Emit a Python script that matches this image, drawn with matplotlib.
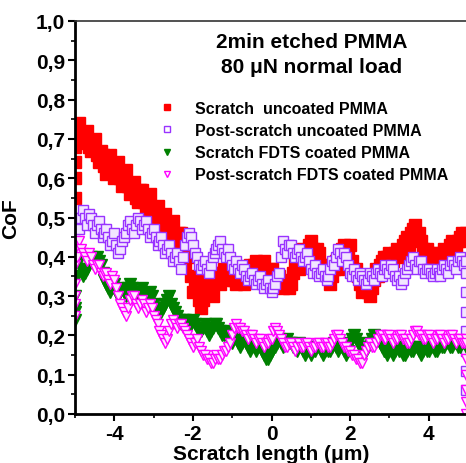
import numpy as np
import matplotlib
matplotlib.use("Agg")
import matplotlib.pyplot as plt
from matplotlib.lines import Line2D

plt.rcParams['font.family'] = ['Liberation Sans', 'DejaVu Sans']
plt.rcParams['font.weight'] = 'bold'

# CoF values, sampled every 0.05 um starting at x = -5 (one row = 1 um)
scratch_uncoated = [
    0.70, 0.73, 0.74, 0.71, 0.69, 0.70, 0.72, 0.68, 0.67, 0.69, 0.70, 0.66, 0.64, 0.67, 0.66, 0.63, 0.61, 0.64, 0.66, 0.62,
    0.60, 0.63, 0.64, 0.60, 0.58, 0.61, 0.62, 0.58, 0.56, 0.58, 0.59, 0.55, 0.54, 0.57, 0.57, 0.54, 0.52, 0.55, 0.56, 0.52,
    0.50, 0.52, 0.53, 0.50, 0.48, 0.50, 0.51, 0.47, 0.45, 0.48, 0.49, 0.45, 0.43, 0.46, 0.46, 0.41, 0.38, 0.42, 0.40, 0.35,
    0.31, 0.33, 0.34, 0.29, 0.27, 0.29, 0.31, 0.34, 0.33, 0.31, 0.30, 0.34, 0.36, 0.34, 0.33, 0.36, 0.37, 0.35, 0.34, 0.36,
    0.37, 0.34, 0.33, 0.35, 0.35, 0.34, 0.33, 0.36, 0.37, 0.38, 0.36, 0.38, 0.39, 0.37, 0.36, 0.38, 0.39, 0.36, 0.35, 0.37,
    0.37, 0.35, 0.33, 0.34, 0.35, 0.33, 0.32, 0.33, 0.34, 0.32, 0.33, 0.36, 0.38, 0.39, 0.37, 0.40, 0.42, 0.41, 0.40, 0.43,
    0.44, 0.42, 0.40, 0.42, 0.41, 0.38, 0.36, 0.38, 0.37, 0.35, 0.33, 0.35, 0.37, 0.39, 0.37, 0.40, 0.42, 0.43, 0.40, 0.42,
    0.43, 0.39, 0.36, 0.37, 0.35, 0.33, 0.31, 0.32, 0.33, 0.31, 0.30, 0.32, 0.34, 0.37, 0.35, 0.38, 0.39, 0.40, 0.38, 0.40,
    0.41, 0.40, 0.39, 0.41, 0.42, 0.40, 0.41, 0.43, 0.44, 0.45, 0.43, 0.46, 0.47, 0.48, 0.45, 0.46, 0.44, 0.42, 0.40, 0.42,
    0.41, 0.39, 0.38, 0.40, 0.41, 0.40, 0.39, 0.41, 0.42, 0.40, 0.41, 0.43, 0.44, 0.42, 0.42, 0.44, 0.45, 0.46, 0.44, 0.46,
]
post_uncoated = [
    0.50, 0.49, 0.47, 0.50, 0.52, 0.50, 0.48, 0.51, 0.50, 0.48, 0.46, 0.48, 0.49, 0.47, 0.45, 0.46, 0.47, 0.45, 0.43, 0.44,
    0.46, 0.43, 0.41, 0.42, 0.44, 0.45, 0.46, 0.48, 0.49, 0.47, 0.46, 0.48, 0.50, 0.49, 0.47, 0.48, 0.49, 0.47, 0.45, 0.46,
    0.47, 0.45, 0.43, 0.44, 0.45, 0.43, 0.41, 0.42, 0.43, 0.41, 0.39, 0.40, 0.41, 0.39, 0.37, 0.40, 0.43, 0.45, 0.46, 0.45,
    0.43, 0.41, 0.40, 0.38, 0.37, 0.38, 0.39, 0.37, 0.36, 0.38, 0.40, 0.41, 0.42, 0.43, 0.44, 0.42, 0.41, 0.40, 0.42, 0.40,
    0.38, 0.37, 0.39, 0.37, 0.36, 0.38, 0.37, 0.35, 0.34, 0.35, 0.36, 0.34, 0.33, 0.34, 0.35, 0.33, 0.32, 0.33, 0.34, 0.32,
    0.31, 0.32, 0.33, 0.35, 0.36, 0.40, 0.44, 0.42, 0.41, 0.43, 0.43, 0.41, 0.40, 0.41, 0.42, 0.40, 0.39, 0.40, 0.41, 0.39,
    0.37, 0.36, 0.38, 0.36, 0.35, 0.36, 0.37, 0.35, 0.34, 0.35, 0.37, 0.39, 0.38, 0.40, 0.42, 0.41, 0.39, 0.41, 0.40, 0.38,
    0.36, 0.35, 0.37, 0.35, 0.34, 0.36, 0.35, 0.34, 0.33, 0.34, 0.36, 0.35, 0.34, 0.36, 0.37, 0.36, 0.35, 0.37, 0.38, 0.37,
    0.36, 0.38, 0.37, 0.35, 0.34, 0.35, 0.33, 0.34, 0.36, 0.37, 0.38, 0.39, 0.40, 0.38, 0.37, 0.39, 0.39, 0.37, 0.36, 0.37,
    0.37, 0.36, 0.35, 0.36, 0.37, 0.36, 0.35, 0.37, 0.38, 0.37, 0.36, 0.38, 0.39, 0.38, 0.37, 0.39, 0.40, 0.39, 0.38, 0.39,
]
scratch_fdts = [
    0.27, 0.35, 0.39, 0.37, 0.35, 0.36, 0.37, 0.39, 0.40, 0.39, 0.38, 0.40, 0.39, 0.38, 0.36, 0.34, 0.33, 0.32, 0.31, 0.32,
    0.33, 0.31, 0.30, 0.31, 0.32, 0.31, 0.30, 0.32, 0.33, 0.32, 0.31, 0.30, 0.30, 0.31, 0.32, 0.30, 0.29, 0.30, 0.31, 0.30,
    0.28, 0.27, 0.27, 0.26, 0.26, 0.27, 0.28, 0.29, 0.30, 0.28, 0.27, 0.26, 0.25, 0.24, 0.23, 0.24, 0.24, 0.23, 0.22, 0.23,
    0.24, 0.23, 0.22, 0.21, 0.21, 0.22, 0.23, 0.21, 0.20, 0.21, 0.22, 0.23, 0.23, 0.22, 0.21, 0.20, 0.20, 0.21, 0.19, 0.20,
    0.18, 0.19, 0.20, 0.18, 0.17, 0.18, 0.19, 0.18, 0.17, 0.16, 0.18, 0.17, 0.16, 0.17, 0.17, 0.16, 0.15, 0.14, 0.14, 0.15,
    0.16, 0.17, 0.17, 0.18, 0.19, 0.18, 0.17, 0.18, 0.19, 0.18, 0.18, 0.17, 0.17, 0.16, 0.18, 0.17, 0.16, 0.15, 0.17, 0.16,
    0.15, 0.16, 0.16, 0.17, 0.17, 0.16, 0.15, 0.16, 0.17, 0.16, 0.16, 0.17, 0.18, 0.17, 0.16, 0.17, 0.17, 0.16, 0.15, 0.16,
    0.18, 0.19, 0.20, 0.19, 0.18, 0.17, 0.17, 0.16, 0.16, 0.17, 0.18, 0.19, 0.20, 0.19, 0.19, 0.18, 0.17, 0.16, 0.16, 0.15,
    0.17, 0.16, 0.15, 0.16, 0.17, 0.16, 0.16, 0.15, 0.15, 0.16, 0.17, 0.16, 0.16, 0.17, 0.17, 0.16, 0.15, 0.16, 0.17, 0.16,
    0.16, 0.17, 0.17, 0.16, 0.16, 0.17, 0.18, 0.17, 0.17, 0.18, 0.18, 0.17, 0.17, 0.18, 0.18, 0.17, 0.17, 0.18, 0.18, 0.17,
]
post_fdts = [
    0.30, 0.40, 0.44, 0.42, 0.41, 0.40, 0.39, 0.41, 0.40, 0.38, 0.37, 0.38, 0.38, 0.36, 0.35, 0.36, 0.36, 0.34, 0.33, 0.35,
    0.34, 0.32, 0.30, 0.28, 0.27, 0.26, 0.25, 0.27, 0.29, 0.30, 0.30, 0.28, 0.27, 0.28, 0.29, 0.28, 0.26, 0.27, 0.28, 0.27,
    0.25, 0.24, 0.23, 0.21, 0.20, 0.19, 0.18, 0.19, 0.21, 0.23, 0.24, 0.23, 0.22, 0.23, 0.23, 0.22, 0.21, 0.20, 0.19, 0.18,
    0.17, 0.18, 0.19, 0.17, 0.16, 0.15, 0.15, 0.14, 0.14, 0.13, 0.13, 0.14, 0.15, 0.14, 0.14, 0.15, 0.16, 0.16, 0.17, 0.18,
    0.20, 0.22, 0.23, 0.22, 0.22, 0.21, 0.21, 0.20, 0.19, 0.20, 0.20, 0.19, 0.18, 0.19, 0.19, 0.18, 0.17, 0.18, 0.18, 0.19,
    0.19, 0.21, 0.22, 0.21, 0.20, 0.19, 0.18, 0.17, 0.17, 0.18, 0.18, 0.17, 0.16, 0.17, 0.18, 0.17, 0.17, 0.18, 0.18, 0.17,
    0.16, 0.17, 0.17, 0.18, 0.18, 0.17, 0.17, 0.18, 0.18, 0.17, 0.17, 0.18, 0.19, 0.20, 0.20, 0.19, 0.18, 0.17, 0.17, 0.16,
    0.16, 0.15, 0.15, 0.14, 0.14, 0.13, 0.13, 0.15, 0.16, 0.17, 0.18, 0.17, 0.17, 0.18, 0.19, 0.20, 0.20, 0.19, 0.19, 0.20,
    0.20, 0.19, 0.18, 0.19, 0.19, 0.20, 0.20, 0.19, 0.19, 0.18, 0.18, 0.19, 0.20, 0.21, 0.21, 0.20, 0.20, 0.19, 0.19, 0.20,
    0.20, 0.19, 0.18, 0.19, 0.19, 0.20, 0.20, 0.19, 0.18, 0.19, 0.19, 0.20, 0.20, 0.19, 0.18, 0.19, 0.19, 0.18, 0.18, 0.19,
]

# first points of each run sit at x = -5 (loading), last ones at x = 4.95 (unloading)
start_scratch_uncoated = [0.55, 0.60, 0.64, 0.68]
start_post_uncoated = [0.47, 0.49]
start_scratch_fdts = [0.24, 0.26, 0.30]
start_post_fdts = [0.25, 0.28, 0.33, 0.38, 0.42]
end_post_uncoated = [0.36, 0.31, 0.26, 0.21, 0.16, 0.11, 0.06]
end_post_fdts = [0.18, 0.14, 0.10, 0.06, 0.03, 0.0]

labels = ["Scratch  uncoated PMMA", "Post-scratch uncoated PMMA",
          "Scratch FDTS coated PMMA", "Post-scratch FDTS coated PMMA"]
colors = ["#ff0000", "#9933ff", "#008000", "#ff00ff"]
ytick_vals = [0.0, 0.1, 0.2, 0.3, 0.4, 0.5, 0.6, 0.7, 0.8, 0.9, 1.0]
ytick_labels = ["0,0", "0,1", "0,2", "0,3", "0,4", "0,5", "0,6", "0,7", "0,8", "0,9", "1,0"]
xtick_vals = [-4, -2, 0, 2, 4]
xtick_labels = ["-4", "-2", "0", "2", "4"]


def xs(vals, x0=-5.0, step=0.05):
    return x0 + step * np.arange(len(vals))


fig = plt.figure(figsize=(4.66, 4.64), dpi=100)
ax = fig.add_axes([75 / 466, 1 - 415 / 464, 393 / 466, 393 / 464])

# (values, start, end, marker, face, size)
series = [
    (scratch_uncoated, start_scratch_uncoated, [], "s", "#ff0000", 8.0),
    (post_uncoated, start_post_uncoated, end_post_uncoated, "s", "#f2e6ff", 6.8),
    (scratch_fdts, start_scratch_fdts, [], "v", "#008000", 8.5),
    (post_fdts, start_post_fdts, end_post_fdts, "v", "#ffe6ff", 7.2),
]
handles = []
for (vals, start, end, mk, fc, ms), col, lab in zip(series, colors, labels):
    x = np.concatenate([np.full(len(start), -5.0), xs(vals), np.full(len(end), 4.95)])
    y = np.concatenate([start, vals, end])
    ax.plot(x, y, linestyle="none", marker=mk, markersize=ms,
            markerfacecolor=fc, markeredgecolor=col, markeredgewidth=1.0)
    lfc = col if fc == col else "none"
    handles.append(Line2D([], [], linestyle="none", marker=mk, markersize=5,
                          markerfacecolor=lfc, markeredgecolor=col, label=lab))

ax.set_xlim(-5, 5)
ax.set_ylim(0, 1.0)
ax.set_xticks(xtick_vals)
ax.set_xticklabels(xtick_labels)
ax.set_yticks(ytick_vals)
ax.set_yticklabels(ytick_labels)
ax.set_xticks([-5, -3, -1, 1, 3, 5], minor=True)
ax.set_yticks(np.arange(0.05, 1.0, 0.1), minor=True)
ax.tick_params(axis="both", which="major", direction="out", length=5, width=1.5,
               labelsize=15, pad=2)
ax.tick_params(axis="both", which="minor", direction="out", length=3, width=1.2)
for lbl in ax.get_xticklabels() + ax.get_yticklabels():
    lbl.set_fontweight("bold")

ax.spines["left"].set_linewidth(2)
ax.spines["bottom"].set_linewidth(2)
ax.spines["top"].set_linewidth(1.2)
ax.spines["top"].set_color("#333333")
ax.spines["right"].set_visible(False)

ax.set_ylabel("CoF", fontsize=15, fontweight="bold")
ax.yaxis.set_label_coords(-0.14, 0.5)
ax.set_xlabel("Scratch length (\u03bcm)", fontsize=15, fontweight="bold")
ax.xaxis.set_label_coords(0.5, -0.077)
ax.xaxis.label.set_va("top")

ax.text(1.03, 0.947, "2min etched PMMA", fontsize=15, fontweight="bold",
        ha="center", va="center")
ax.text(1.03, 0.885, "80 \u03bcN normal load", fontsize=15, fontweight="bold",
        ha="center", va="center")

ax.legend(handles=handles, loc="upper left", bbox_to_anchor=(0.215, 0.797),
          frameon=False, prop={"size": 11.5, "weight": "bold"},
          handlelength=1.0, handletextpad=1.2, labelspacing=0.45,
          borderaxespad=0, borderpad=0)

fig.savefig("out.png", dpi=100)
